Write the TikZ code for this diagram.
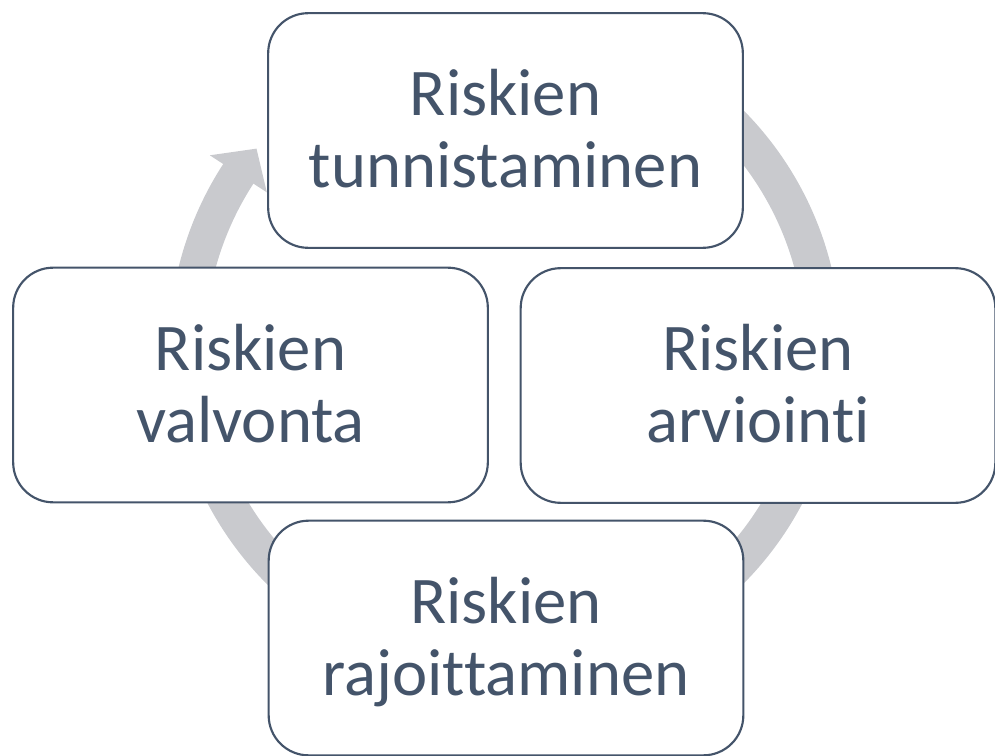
\documentclass[tikz,border=0pt]{standalone}
\usepackage{fontspec}
\setmainfont{Carlito}[Ligatures={NoCommon}]
\usepackage{tikz}
\usetikzlibrary{calc}
\usepackage{xcolor}

\definecolor{slate}{RGB}{68,84,106}
\definecolor{ringgray}{RGB}{201,202,206}

\tikzset{
  phasebox/.style={draw=slate, line width=1.6pt, fill=white, rounded corners=30pt,
    minimum width=356pt, minimum height=176pt, align=center, text=slate,
    text height=85.5pt, text depth=0pt,
    font=\fontsize{50}{54}\selectfont},
}

\begin{document}
\begin{tikzpicture}[x=0.75pt,y=0.75pt]
\useasboundingbox (0,0) rectangle (995,-756);

% ring of arrows behind the boxes
\begin{scope}[shift={(505,-347)}]
\foreach \s/\b/\t in {172/146.5/141.4, 60/12/7, -20/-58/-63, -115/-160/-165} {
  \fill[ringgray] (\s:336) arc[start angle=\s, end angle=\b, radius=336]
    -- (\b:300) arc[start angle=\b, end angle=\s, radius=300] -- cycle;
  \fill[ringgray] (\b+0.5:352) -- (\t:318) -- (\b+0.5:284) -- cycle;
}
\end{scope}

% the four steps
\node[phasebox] (tunnistus) at (505.5,-130.5) {Riskien\\tunnistaminen};
\node[phasebox] (arviointi) at (758,-385.5) {Riskien\\arviointi};
\node[phasebox] (rajoitus) at (506,-638) {Riskien\\rajoittaminen};
\node[phasebox] (valvonta) at (250.5,-385) {Riskien\\valvonta};

\end{tikzpicture}
\end{document}
